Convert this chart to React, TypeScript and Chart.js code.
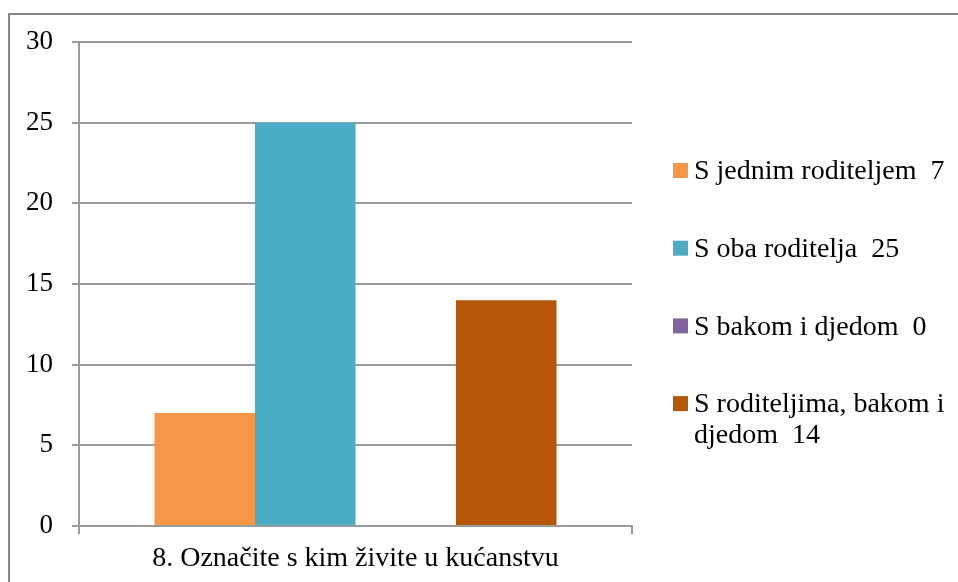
import { useEffect, useRef } from 'react';
import { Chart, registerables } from 'chart.js';

Chart.register(...registerables);

const categories = ['8. Označite s kim živite u kućanstvu'];
const seriesNames = [
  'S jednim roditeljem',
  'S oba roditelja',
  'S bakom i djedom',
  'S roditeljima, bakom i djedom',
];
const seriesValues = [7, 25, 0, 14];
const seriesColors = ['#F79646', '#4BACC6', '#8064A2', '#B65708'];
const yMin = 0;
const yMax = 30;
const yStep = 5;

const FONT = '"Liberation Serif", "Times New Roman", serif';
const GRID = '#9a9a9a';

function wrapText(ctx: CanvasRenderingContext2D, text: string, maxW: number): string[] {
  const words = text.split(' ');
  const lines: string[] = [];
  let cur = '';
  for (const w of words) {
    const test = cur === '' ? w : cur + ' ' + w;
    if (ctx.measureText(test).width > maxW && cur.trim() !== '') {
      lines.push(cur);
      cur = w;
    } else {
      cur = test;
    }
  }
  if (cur !== '') lines.push(cur);
  return lines;
}

const framePlugin = {
  id: 'frame',
  beforeDraw(chart: any) {
    const ctx = chart.ctx as CanvasRenderingContext2D;
    ctx.save();
    ctx.fillStyle = '#ffffff';
    ctx.fillRect(0, 0, chart.width, chart.height);
    ctx.fillStyle = '#868686';
    ctx.fillRect(8, 13, 2, chart.height);
    ctx.fillRect(8, 13, chart.width, 2);
    ctx.restore();
  },
};

const legendPlugin = {
  id: 'sideLegend',
  afterDraw(chart: any) {
    const ctx = chart.ctx as CanvasRenderingContext2D;
    const area = chart.chartArea;
    ctx.save();
    ctx.font = `28px ${FONT}`;
    ctx.textBaseline = 'middle';
    ctx.textAlign = 'left';
    const markerX = area.right + 41;
    const textX = markerX + 21;
    const maxW = chart.width - textX - 2;
    let y = 171;
    chart.data.datasets.forEach((ds: any, i: number) => {
      const text = `${ds.label}  ${seriesValues[i]}`;
      const lines = wrapText(ctx, text, maxW);
      ctx.fillStyle = ds.backgroundColor;
      ctx.fillRect(markerX, y - 8, 15, 15);
      ctx.fillStyle = '#000000';
      lines.forEach((ln, j) => ctx.fillText(ln, textX, y + 1 + j * 31));
      y += 77.7;
    });
    ctx.restore();
  },
};

export default function App() {
  const ref = useRef<HTMLCanvasElement>(null);

  useEffect(() => {
    if (!ref.current) return;
    const chart = new Chart(ref.current, {
      type: 'bar',
      data: {
        labels: categories,
        datasets: seriesNames.map((name, i) => ({
          label: name,
          data: [seriesValues[i]],
          backgroundColor: seriesColors[i],
          borderWidth: 0,
          categoryPercentage: 0.727,
          barPercentage: 1.0,
        })),
      },
      options: {
        animation: false,
        responsive: true,
        maintainAspectRatio: false,
        layout: { padding: { left: 0, top: 42, right: 326, bottom: 0 } },
        plugins: {
          legend: { display: false },
          tooltip: { enabled: false },
          title: { display: false },
        },
        scales: {
          x: {
            offset: true,
            grid: {
              offset: true,
              drawOnChartArea: false,
              drawTicks: true,
              tickLength: 8,
              color: GRID,
              lineWidth: 2,
            },
            border: { display: true, color: GRID, width: 2 },
            ticks: {
              color: '#000000',
              font: { family: FONT, size: 28 },
              padding: 8,
            },
            afterFit(scale: any) {
              scale.height = 56;
            },
          },
          y: {
            min: yMin,
            max: yMax,
            ticks: {
              stepSize: yStep,
              color: '#000000',
              font: { family: FONT, size: 27 },
              padding: 19,
            },
            grid: {
              color: GRID,
              lineWidth: 2,
              drawTicks: true,
              tickLength: 7,
            },
            border: { display: true, color: GRID, width: 2 },
            afterFit(scale: any) {
              scale.width = 79;
            },
          },
        },
      },
      plugins: [framePlugin, legendPlugin],
    });
    return () => chart.destroy();
  }, []);

  return (
    <div style={{ position: 'fixed', left: 0, top: 0, width: 958, height: 582, overflow: 'hidden', background: '#fff' }}>
      <canvas ref={ref} />
    </div>
  );
}
